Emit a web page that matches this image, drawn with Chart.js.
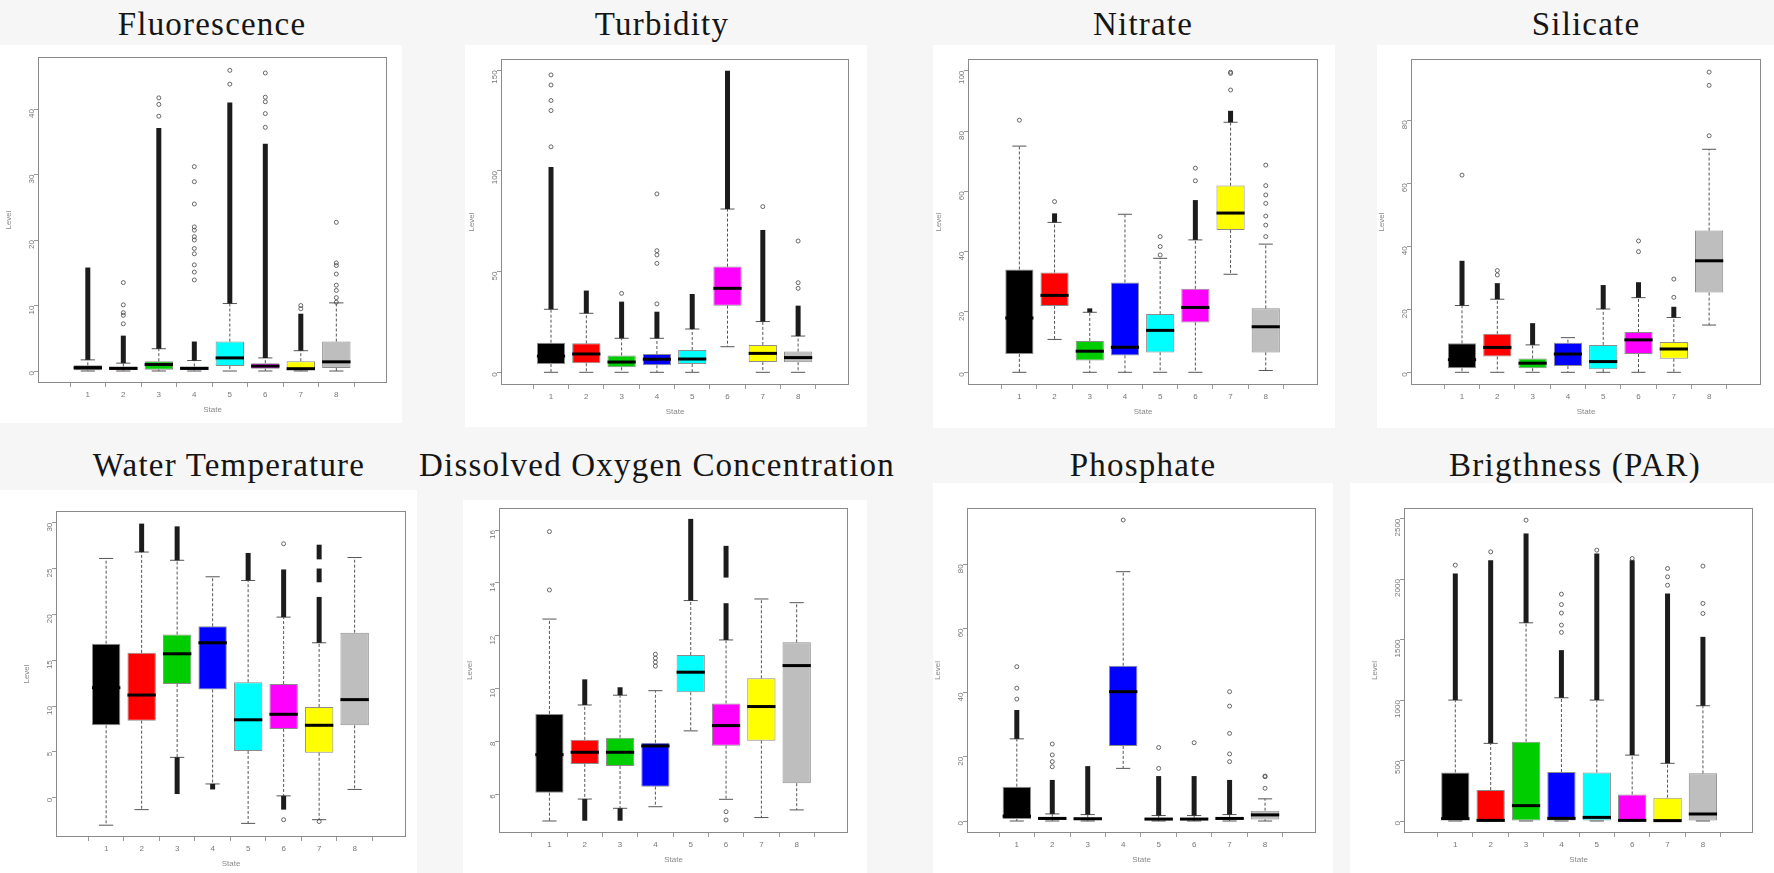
<!DOCTYPE html>
<html>
<head>
<meta charset="utf-8">
<script src="https://cdn.jsdelivr.net/npm/chart.js@4.4.0/dist/chart.umd.min.js"></script>
<style>
  body { margin: 0; width: 1774px; height: 873px; background: #f6f6f6; position: relative; overflow: hidden; }
  .sheet { position: absolute; background: #fff; }
  .ttl { position: absolute; font-family: "Liberation Serif", serif; font-size: 33px; letter-spacing: 1.2px;
         line-height: 33px; color: #151515; white-space: nowrap; transform: translateX(-50%); }
  canvas { position: absolute; }
</style>
</head>
<body>
<script>
// states on the x axis and their box colours (R palette 1..8)
var states = [1, 2, 3, 4, 5, 6, 7, 8];
var stateColors = ['#000000', '#ff0000', '#00cd00', '#0000ff', '#00ffff', '#ff00ff', '#ffff00', '#bebebe'];

// each row: [lower whisker, Q1, median, Q3, upper whisker] for states 1..8
// runs = dense stacks of outliers [from, to], points = single outliers
var fluoTicks = [0, 10, 20, 30, 40];
var fluoStats = [[0, 0.1, 0.5, 0.87, 1.7], [0, 0.1, 0.4, 0.7, 1.2], [0, 0.2, 1.0, 1.5, 3.4], [0, 0.1, 0.4, 0.7, 1.6],
                 [0, 0.76, 2.0, 4.5, 10.3], [0, 0.35, 0.75, 1.2, 2.0], [0, 0.1, 0.35, 1.5, 3.1], [0, 0.45, 1.4, 4.5, 10.4]];
var fluoRuns = [[[1.7, 15.8]], [[1.2, 5.4]], [[3.4, 37.1]], [[1.6, 4.5]], [[10.3, 41]], [[2, 34.7]], [[3.1, 8.75]], []];
var fluoPoints = [[], [13.5, 10.1, 8.9, 8.5, 7.2], [38.9, 40.7, 41.7],
                  [13.9, 15.1, 16.2, 17.9, 18.7, 20.0, 20.5, 21.5, 22.0, 25.5, 28.9, 31.2],
                  [43.8, 45.9], [37.2, 39.3, 41.1, 41.8, 45.5], [9.5, 10.0], [10.5, 11.2, 12.3, 13.1, 14.8, 16.1, 16.5, 22.7]];

var turbTicks = [0, 50, 100, 150];
var turbStats = [[0, 4.1, 8, 14.7, 31.3], [0, 4.5, 9.1, 14.4, 29.3], [0, 2.5, 5.1, 8.4, 16.9], [0, 3.5, 6.5, 9.1, 16.9],
                 [0, 4.1, 6.6, 11.1, 21.5], [12.7, 33.1, 41.7, 52.5, 81.1], [0, 5.1, 9.4, 13.6, 25.2], [0, 5, 7.3, 10.3, 18]];
var turbRuns = [[[31.3, 102]], [[29.3, 40.6]], [[16.9, 35.1]], [[16.9, 30.1]], [[21.5, 38.9]], [[81.1, 149.8]], [[25.2, 70.7]], [[18, 33.1]]];
var turbPoints = [[112, 130, 135, 142.7, 147.7], [], [39.2], [34, 54.1, 58.3, 60.4, 88.6], [], [], [82.3], [41.7, 44.5, 65.2]];

var nitTicks = [0, 20, 40, 60, 80, 100];
var nitStats = [[0, 6.1, 18, 34.1, 75], [10.9, 22.0, 25.5, 33.1, 49.7], [0, 3.9, 7.0, 10.4, 19.9], [0, 5.6, 8.3, 29.8, 52.4],
                [0, 6.6, 13.9, 19.3, 37.8], [0, 16.5, 21.5, 27.7, 43.9], [32.5, 47.2, 52.8, 61.9, 82.9], [0.6, 6.6, 15.1, 21.2, 42.5]];
var nitRuns = [[], [[49.7, 52.7]], [[19.9, 21.2]], [], [], [[43.9, 57.1]], [[82.9, 86.7]], []];
var nitPoints = [[83.6], [56.6], [], [], [38.9, 41.7, 45], [63.5, 67.7], [93.6, 99.1, 99.5], [45, 48.8, 51.8, 56, 58.8, 61.9, 68.7]];

var silTicks = [0, 20, 40, 60, 80];
var silStats = [[0, 1.3, 4, 9.2, 21.2], [0, 5.0, 7.9, 12.2, 23.2], [0, 1.3, 2.9, 4.4, 8.7], [0, 2.0, 5.8, 9.4, 11.0],
                [0, 1.0, 3.4, 8.7, 20.1], [0, 5.8, 10.3, 12.8, 23.7], [0, 4.3, 7.4, 9.6, 17.4], [15.0, 25.3, 35.4, 45.0, 70.8]];
var silRuns = [[[21.2, 35.4]], [[23.2, 28.3]], [[8.7, 15.6]], [], [[20.1, 27.7]], [[23.7, 28.6]], [[17.4, 20.8]], []];
var silPoints = [[62.6], [30.9, 32.3], [], [], [], [38.3, 41.7], [23.8, 29.6], [75.1, 91.1, 95.3]];

var tempTicks = [0, 5, 10, 15, 20, 25, 30];
var tempStats = [[-3.0, 7.9, 12, 16.8, 26.1], [-1.3, 8.4, 11.2, 15.8, 26.8], [4.4, 12.4, 15.7, 17.8, 25.9], [1.5, 11.8, 16.9, 18.7, 24.1],
                 [-2.8, 5.1, 8.5, 12.6, 23.7], [0.2, 7.5, 9.1, 12.4, 19.7], [-2.4, 4.9, 7.9, 9.9, 16.9], [0.9, 7.9, 10.7, 18.0, 26.2]];
var tempRuns = [[], [[26.8, 29.9]], [[25.9, 29.6], [0.4, 4.4]], [[0.9, 1.5]], [[23.7, 26.7]], [[19.7, 24.9], [-1.3, 0.2]],
                [[16.9, 21.9], [23.5, 25], [26, 27.6]], []];
var tempPoints = [[], [], [], [], [], [27.7, -2.4], [-2.6], []];

var doTicks = [6, 8, 10, 12, 14, 16];
var doStats = [[4.99, 6.06, 7.5, 9.04, 12.63], [5.82, 7.15, 7.59, 8.06, 9.38], [5.47, 7.07, 7.59, 8.14, 9.75], [5.53, 6.29, 7.83, 7.95, 9.92],
               [8.40, 9.86, 10.62, 11.27, 13.33], [5.81, 7.84, 8.60, 9.44, 11.84], [5.12, 8.03, 9.32, 10.39, 13.39], [5.41, 6.42, 10.87, 11.75, 13.25]];
var doRuns = [[], [[9.38, 10.35], [5.0, 5.82]], [[9.75, 10.05], [5.0, 5.47]], [], [[13.33, 16.42]], [[11.84, 13.23], [14.2, 15.4]], [], []];
var doPoints = [[13.73, 15.94], [], [], [10.85, 11.0, 11.15, 11.3], [], [5.34, 5.03], [], []];

var phosTicks = [0, 20, 40, 60, 80];
var phosStats = [[0, 0.6, 1.5, 10.7, 25.6], [0, 0.3, 0.8, 1.35, 2.2], [0, 0.3, 0.7, 1.1, 2.0], [16.4, 23.4, 40.3, 48.4, 77.7],
                 [0, 0.3, 0.6, 1.0, 1.7], [0, 0.3, 0.6, 1.0, 1.7], [0, 0.4, 0.8, 1.2, 2.0], [0, 0.5, 1.9, 3.2, 6.9]];
var phosRuns = [[[25.6, 34.6]], [[2.2, 12.8]], [[2.0, 17.1]], [], [[1.7, 14]], [[1.7, 14]], [[2.0, 12.8]], []];
var phosPoints = [[38, 41.4, 48.1], [16.9, 18.5, 20.6, 24], [], [93.8], [16.4, 22.9], [24.4], [18.5, 20.9, 27.3, 35.8, 40.3], [10.2, 13.8, 14.0]];

var parTicks = [0, 500, 1000, 1500, 2000, 2500];
var parStats = [[0, 0, 20, 402, 1000], [0, 0, 5, 256, 642], [0, 0, 127, 656, 1639], [0, 0, 22, 405, 1019],
                [0, 0, 30, 402, 1000], [0, 0, 5, 220, 545], [0, 0, 3, 193, 477], [0, 0, 58, 394, 953]];
var parRuns = [[[1000, 2047]], [[642, 2157]], [[1639, 2378]], [[1019, 1413]], [[1000, 2212]], [[545, 2157]], [[477, 1882]], [[953, 1523]]];
var parPoints = [[2116], [2226], [2488], [1560, 1620, 1720, 1790, 1876], [2240], [2171], [1950, 2019, 2088], [1716, 1799, 2108]];

// layout: plot frame [left, top, right, bottom], y reference [px, value, px, value], x px of state 1 and 8
var panels = [
  { title: 'Fluorescence', tx: 212, ty: 8, stats: fluoStats, runs: fluoRuns, points: fluoPoints, ticks: fluoTicks,
    frame: [38, 57, 387, 383], yRef: [371, 0, 109, 40], xRef: [70, 354], sheet: [0, 45, 402, 423] },
  { title: 'Turbidity', tx: 662, ty: 8, stats: turbStats, runs: turbRuns, points: turbPoints, ticks: turbTicks,
    frame: [501, 59, 849, 385], yRef: [372.3, 0, 70.3, 150], xRef: [533.3, 815.7], sheet: [465, 45, 867, 427] },
  { title: 'Nitrate', tx: 1143, ty: 8, stats: nitStats, runs: nitRuns, points: nitPoints, ticks: nitTicks,
    frame: [968, 59, 1318, 385], yRef: [372.3, 0, 70.7, 100], xRef: [1001.7, 1283.3], sheet: [933, 45, 1335, 428] },
  { title: 'Silicate', tx: 1586, ty: 8, stats: silStats, runs: silRuns, points: silPoints, ticks: silTicks,
    frame: [1411, 59, 1761, 385], yRef: [372.3, 0, 120.3, 80], xRef: [1444.3, 1726.7], sheet: [1377, 45, 1774, 428] },
  { title: 'Water Temperature', tx: 229, ty: 449, stats: tempStats, runs: tempRuns, points: tempPoints, ticks: tempTicks,
    frame: [56, 511, 406, 837], yRef: [797.7, 0, 522.7, 30], xRef: [88.3, 372.3], sheet: [0, 490, 417, 873] },
  { title: 'Dissolved Oxygen Concentration', tx: 657, ty: 449, stats: doStats, runs: doRuns, points: doPoints, ticks: doTicks,
    frame: [499, 508, 848, 833], yRef: [794.3, 6, 530, 16], xRef: [531.7, 814.3], sheet: [463, 500, 867, 873] },
  { title: 'Phosphate', tx: 1143, ty: 449, stats: phosStats, runs: phosRuns, points: phosPoints, ticks: phosTicks,
    frame: [967, 508, 1316, 833], yRef: [821, 0, 564.3, 80], xRef: [999, 1282.7], sheet: [933, 483, 1333, 873] },
  { title: 'Brigthness (PAR)', tx: 1575, ty: 449, stats: parStats, runs: parRuns, points: parPoints, ticks: parTicks,
    frame: [1404, 508, 1753, 833], yRef: [821, 0, 518.7, 2500], xRef: [1437.7, 1720.7], sheet: [1350, 483, 1774, 873] }
];

var boxParts = {
  id: 'boxParts',
  beforeDatasetsDraw: function (chart) {
    var stats = chart.config.options.boxStats;
    var bars = chart.getDatasetMeta(0).data;
    var y = chart.scales.y;
    var ctx = chart.ctx;
    ctx.save();
    ctx.strokeStyle = '#555';
    ctx.lineWidth = 1;
    stats.forEach(function (s, i) {
      var bx = bars[i].x, half = bars[i].width / 4;
      ctx.setLineDash([3, 2]);
      ctx.beginPath();
      ctx.moveTo(bx, y.getPixelForValue(s[3])); ctx.lineTo(bx, y.getPixelForValue(s[4]));
      ctx.moveTo(bx, y.getPixelForValue(s[1])); ctx.lineTo(bx, y.getPixelForValue(s[0]));
      ctx.stroke();
      ctx.setLineDash([]);
      ctx.beginPath();
      ctx.moveTo(bx - half, y.getPixelForValue(s[4])); ctx.lineTo(bx + half, y.getPixelForValue(s[4]));
      ctx.moveTo(bx - half, y.getPixelForValue(s[0])); ctx.lineTo(bx + half, y.getPixelForValue(s[0]));
      ctx.stroke();
    });
    ctx.restore();
  },
  afterDatasetsDraw: function (chart) {
    var stats = chart.config.options.boxStats;
    var bars = chart.getDatasetMeta(0).data;
    var y = chart.scales.y;
    var ctx = chart.ctx;
    var a = chart.chartArea;
    ctx.save();
    ctx.strokeStyle = '#000';
    ctx.lineWidth = 3;
    stats.forEach(function (s, i) {
      var bx = bars[i].x, half = bars[i].width / 2;
      var py = y.getPixelForValue(s[2]);
      ctx.beginPath();
      ctx.moveTo(bx - half, py); ctx.lineTo(bx + half, py);
      ctx.stroke();
    });
    // R style frame round the plot
    ctx.strokeStyle = '#8a8a8a';
    ctx.lineWidth = 1;
    ctx.strokeRect(a.left + 0.5, a.top + 0.5, a.right - a.left - 1, a.bottom - a.top - 1);
    ctx.restore();
  }
};

function addDiv(cls, x, y, w, h) {
  var d = document.createElement('div');
  d.className = cls;
  d.style.left = x + 'px'; d.style.top = y + 'px';
  if (w) { d.style.width = w + 'px'; d.style.height = h + 'px'; }
  document.body.appendChild(d);
  return d;
}

function buildPanel(p) {
  var L = p.frame[0], T = p.frame[1], R = p.frame[2], B = p.frame[3];
  var axisW = 34, axisH = 34, padT = 14, padR = 6;

  addDiv('sheet', p.sheet[0], p.sheet[1], p.sheet[2] - p.sheet[0], p.sheet[3] - p.sheet[1]);
  var t = addDiv('ttl', p.tx, p.ty);
  t.textContent = p.title;

  var cv = document.createElement('canvas');
  cv.width = axisW + (R - L) + padR;
  cv.height = padT + (B - T) + axisH;
  cv.style.left = (L - axisW) + 'px';
  cv.style.top = (T - padT) + 'px';
  document.body.appendChild(cv);

  var perPx = (p.yRef[3] - p.yRef[1]) / (p.yRef[0] - p.yRef[2]);
  var yMin = p.yRef[1] - (B - p.yRef[0]) * perPx;
  var yMax = p.yRef[1] + (p.yRef[0] - T) * perPx;
  var catPx = (p.xRef[1] - p.xRef[0]) / 7;
  var xMin = 1 - (p.xRef[0] - L) / catPx;
  var xMax = 8 + (R - p.xRef[1]) / catPx;

  var boxData = p.stats.map(function (s, i) { return { x: states[i], y: [s[1], s[3]] }; });
  var runData = [];
  p.runs.forEach(function (list, i) {
    list.forEach(function (r) { runData.push({ x: states[i], y: [r[0], r[1]] }); });
  });
  var pointData = [];
  p.points.forEach(function (list, i) {
    list.forEach(function (v) { pointData.push({ x: states[i], y: v }); });
  });

  var tickFont = { family: 'Liberation Sans', size: 8 };
  new Chart(cv, {
    type: 'bar',
    data: {
      datasets: [
        { type: 'bar', data: boxData, backgroundColor: stateColors, borderColor: 'rgba(0,0,0,0.45)', borderWidth: 1,
          borderSkipped: false, grouped: false, barPercentage: 0.8, categoryPercentage: 1, order: 1 },
        { type: 'bar', data: runData, backgroundColor: '#1c1c1c', borderWidth: 0, grouped: false, maxBarThickness: 5, order: 2 },
        { type: 'line', data: pointData, showLine: false, pointRadius: 2, pointBorderWidth: 0.8,
          pointBorderColor: '#444', pointBackgroundColor: 'rgba(0,0,0,0)', order: 3 }
      ]
    },
    options: {
      boxStats: p.stats,
      responsive: false,
      animation: false,
      devicePixelRatio: 1,
      events: [],
      layout: { padding: { left: 0, top: padT, right: padR, bottom: 0 } },
      plugins: { legend: { display: false }, tooltip: { enabled: false } },
      scales: {
        x: {
          type: 'linear', min: xMin, max: xMax,
          afterBuildTicks: function (s) { s.ticks = states.map(function (v) { return { value: v }; }); },
          afterFit: function (s) { s.height = axisH; },
          ticks: { font: tickFont, color: '#777', padding: 3, maxRotation: 0, callback: function (v) { return String(v); } },
          grid: { drawOnChartArea: false, drawTicks: true, tickLength: 4, color: '#999' },
          border: { display: false },
          title: { display: true, text: 'State', font: tickFont, color: '#888', padding: { top: 2, bottom: 2 } }
        },
        y: {
          type: 'linear', min: yMin, max: yMax,
          afterBuildTicks: function (s) { s.ticks = p.ticks.map(function (v) { return { value: v }; }); },
          afterFit: function (s) { s.width = axisW; },
          ticks: { font: tickFont, color: '#777', padding: 2, minRotation: 90, maxRotation: 90,
                   callback: function (v) { return String(v); } },
          grid: { drawOnChartArea: false, drawTicks: true, tickLength: 4, color: '#999' },
          border: { display: false },
          title: { display: true, text: 'Level', font: tickFont, color: '#888', padding: { top: 0, bottom: 2 } }
        }
      }
    },
    plugins: [boxParts]
  });
}

panels.forEach(buildPanel);
</script>
</body>
</html>
